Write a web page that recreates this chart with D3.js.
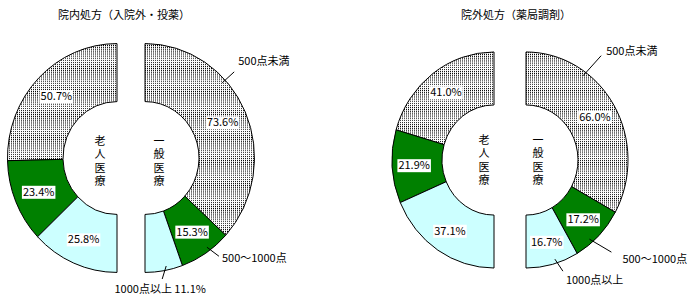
<!DOCTYPE html>
<html><head><meta charset="utf-8">
<script src="https://cdn.jsdelivr.net/npm/d3@7"></script>
<style>
body{margin:0;background:#fff;}
text{font-family:"Noto Sans CJK JP","Noto Sans",sans-serif;font-size:11px;fill:#000;}
</style></head><body>
<svg id="c" width="696" height="298"></svg>
<script>
const categories = ["500点未満", "500～1000点", "1000点以上"];
const groups = ["老人医療", "一般医療"];
const titles = ["院内処方（入院外・投薬）", "院外処方（薬局調剤）"];
const inElderly = [50.7, 23.4, 25.8];
const inGeneral = [73.6, 15.3, 11.1];
const outElderly = [41.0, 21.9, 37.1];
const outGeneral = [66.0, 17.2, 16.7];

const fills = ["url(#dots)", "#008000", "#ccffff"];
const fmt = v => d3.format(".1f")(v) + "%";

const svg = d3.select("#c");
const defs = svg.append("defs");
const pat = defs.append("pattern").attr("id", "dots").attr("patternUnits", "userSpaceOnUse")
  .attr("width", 2).attr("height", 2);
pat.append("rect").attr("width", 2).attr("height", 2).attr("fill", "#fff");
pat.append("rect").attr("width", 1).attr("height", 1).attr("fill", "#000");

const charts = [
  { title: titles[0], elderly: inElderly, general: inGeneral, cx: 131, cy: 158, gap: 28,
    rO: 109.5, rI: 54, sy: 1.045, titleX: 124, titleY: 19, vtOff: [-17, 14], vtY: 4,
    callouts: [
      { cat: 0, t: 0.355, dx: 12, dy: -11, tx: 4, ty: -7, anchor: "start" },
      { cat: 1, t: 0.42, dx: 12, dy: 9, tx: 3, ty: 6, anchor: "start" },
      { cat: 2, t: 0.42, dx: -4, dy: 13, tx: -2, ty: 14, anchor: "middle", withValue: true }
    ] },
  { title: titles[1], elderly: outElderly, general: outGeneral, cx: 510, cy: 160, gap: 32,
    rO: 102, rI: 52, sy: 1.059, titleX: 516, titleY: 19, vtOff: [-10, 12], vtY: 1,
    callouts: [
      { cat: 0, t: 0.3, dx: 18, dy: -20, tx: 5, ty: -1, anchor: "start" },
      { cat: 1, t: 0.67, dx: 22, dy: 13, tx: 11, ty: 11, anchor: "start" },
      { cat: 2, t: 0.43, dx: 8, dy: 12, tx: 3, ty: 13, anchor: "start" }
    ] }
];

charts.forEach(ch => {
  svg.append("text").attr("x", ch.titleX).attr("y", ch.titleY).attr("text-anchor", "middle").text(ch.title);

  const arc = d3.arc().innerRadius(ch.rI).outerRadius(ch.rO);
  const labelArc = d3.arc().innerRadius((ch.rI + ch.rO) / 2 + 3).outerRadius((ch.rI + ch.rO) / 2 + 3);

  const halves = [
    { vals: ch.elderly, hx: ch.cx - ch.gap / 2, end: -Math.PI, name: groups[0] },
    { vals: ch.general, hx: ch.cx + ch.gap / 2, end: Math.PI, name: groups[1] }
  ];

  halves.forEach((h, hi) => {
    const pie = d3.pie().sort(null).startAngle(0).endAngle(h.end);
    const arcs = pie(h.vals);
    h.arcs = arcs;
    const g = svg.append("g").attr("transform", `translate(${h.hx},${ch.cy}) scale(1,${ch.sy})`);
    g.selectAll("path").data(arcs).join("path")
      .attr("d", arc)
      .attr("fill", (d, i) => fills[i])
      .attr("stroke", "#000")
      .attr("stroke-width", 1)
      .attr("vector-effect", "non-scaling-stroke");

    // inside percentage labels
    arcs.forEach((d, i) => {
      const skip = hi === 1 && ch.callouts.some(c => c.cat === i && c.withValue);
      if (skip) return;
      const [lx, ly] = labelArc.centroid(d);
      const x = h.hx + lx, y = ch.cy + ly * ch.sy;
      const lg = svg.append("g");
      const rect = lg.append("rect").attr("fill", "#fff");
      const t = lg.append("text").attr("x", x).attr("y", y + 4).attr("text-anchor", "middle").text(fmt(d.data));
      const bb = t.node().getBBox();
      rect.attr("x", bb.x - 1).attr("y", y - 6).attr("width", bb.width + 2).attr("height", 13);
    });

    // vertical group label (single vertical text)
    svg.append("text")
      .attr("x", h.hx + ch.vtOff[hi])
      .attr("y", ch.cy + ch.vtY)
      .attr("text-anchor", "middle")
      .style("writing-mode", "vertical-rl")
      .style("letter-spacing", "2.3px")
      .text(h.name);
  });

  // callouts on the general half
  const gh = halves[1];
  ch.callouts.forEach(c => {
    const d = gh.arcs[c.cat];
    const a = d.startAngle + c.t * (d.endAngle - d.startAngle);
    const r = ch.rO - 4;
    const x0 = gh.hx + r * Math.sin(a), y0 = ch.cy - r * Math.cos(a) * ch.sy;
    const x1 = x0 + c.dx, y1 = y0 + c.dy;
    svg.append("line").attr("x1", x0).attr("y1", y0).attr("x2", x1).attr("y2", y1)
      .attr("stroke", "#000").attr("stroke-width", 1);
    const label = categories[c.cat] + (c.withValue ? " " + fmt(d.data) : "");
    svg.append("text").attr("x", x1 + c.tx).attr("y", y1 + c.ty).attr("text-anchor", c.anchor).text(label);
  });
});
</script></body></html>
